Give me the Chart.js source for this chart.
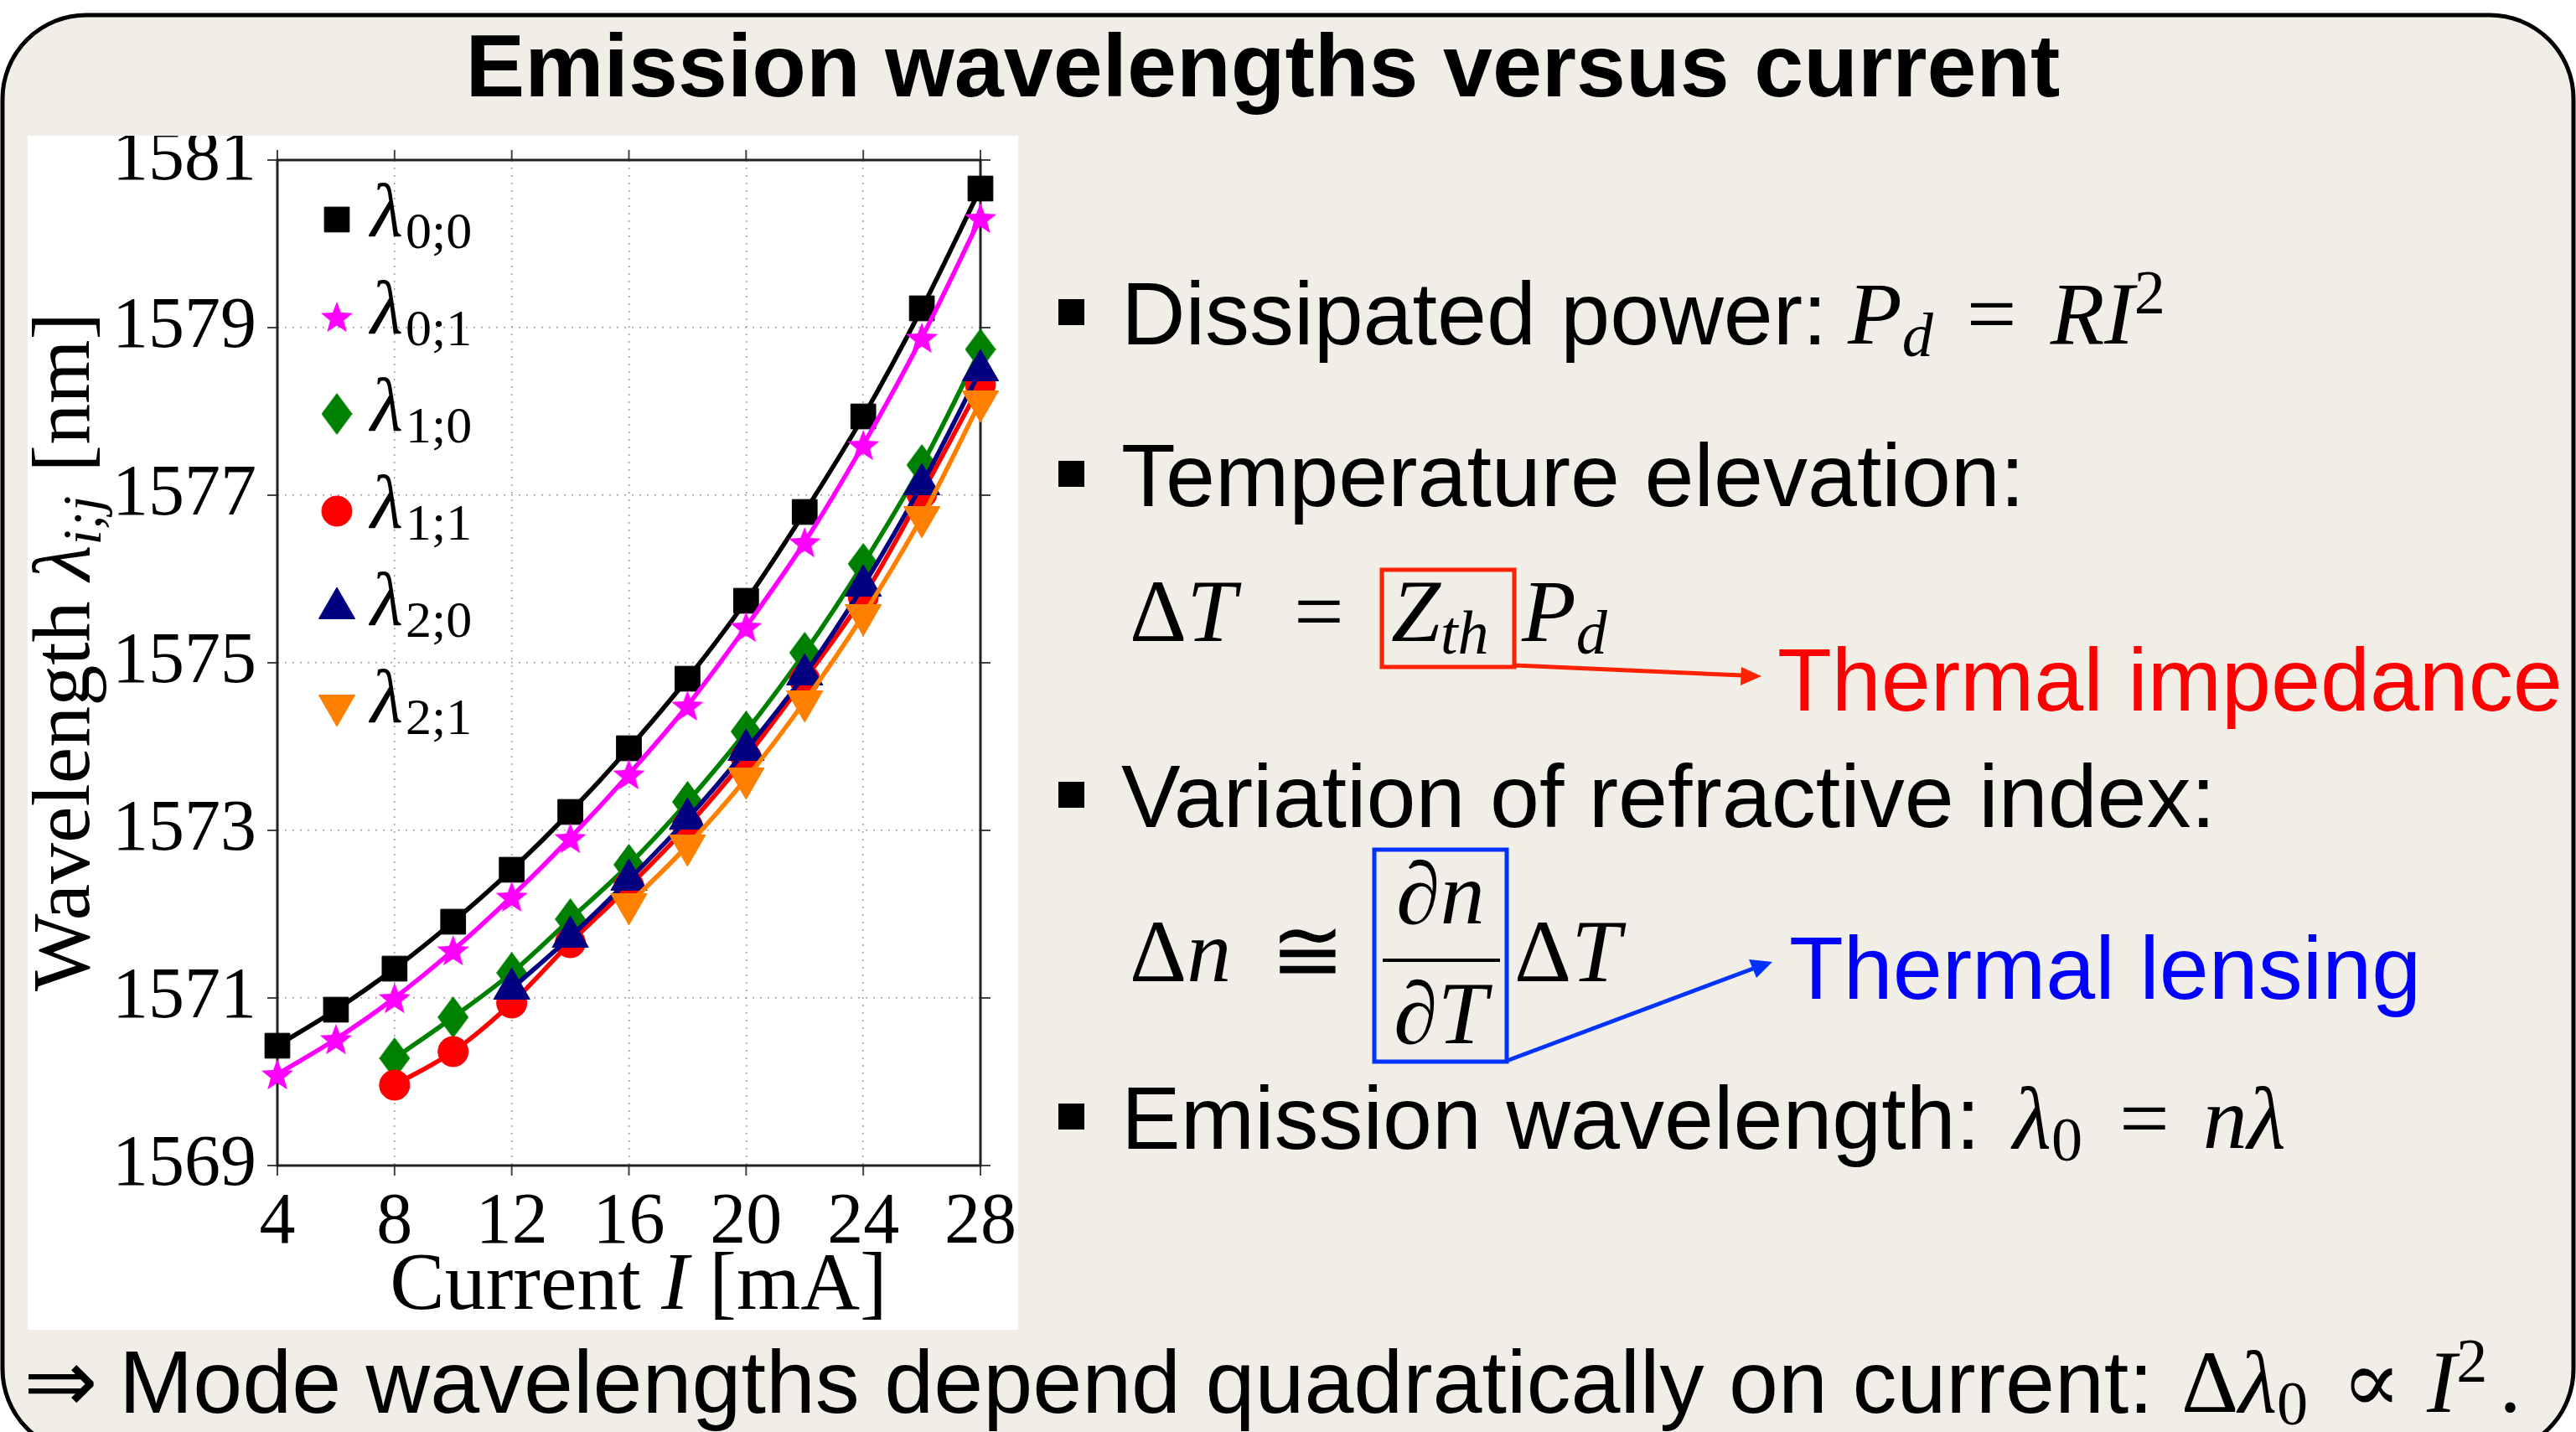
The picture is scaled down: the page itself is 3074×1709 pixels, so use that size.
<!DOCTYPE html>
<html>
<head>
<meta charset="utf-8">
<script src="https://cdn.jsdelivr.net/npm/chart.js@4.4.1/dist/chart.umd.min.js"></script>
<style>
  html, body { margin: 0; padding: 0; background: #fff; }
  #slide { position: relative; width: 3074px; height: 1709px; overflow: hidden; background: #fff; }
  svg { position: absolute; left: 0; top: 0; }
  #plotBox { position: absolute; left: 33px; top: 162px; width: 1182px; height: 1425px; background: #fff; }
  .t { position: absolute; white-space: nowrap; font-family: "Liberation Sans", Arial, sans-serif;
       font-size: 106px; line-height: 1; color: #000; }
  .m { font-family: "Liberation Serif", "DejaVu Serif", serif; }
  .i { font-style: italic; }
  .sb { font-size: 0.7em; position: relative; top: 0.2em; }
  .sp { font-size: 0.7em; position: relative; top: -0.48em; }
  .bullet { position: absolute; width: 31px; height: 31px; background: #000; }
</style>
</head>
<body>
<div id="slide">
  <svg width="3074" height="1709">
    <rect x="3" y="18" width="3068" height="1716" rx="100" ry="100" fill="#f1eee7" stroke="#000" stroke-width="5"/>
  </svg>

  <div class="t" style="left:0;width:3014px;text-align:center;top:25px;font-weight:bold;font-size:106px;">Emission wavelengths versus current</div>

  <div id="plotBox"><canvas id="chart"></canvas></div>

  <div class="bullet" style="left:1263px;top:357px"></div>
  <div class="t" style="left:1338px;top:321px">Dissipated power:</div>
  <div class="t m" style="left:2205px;top:322px"><span class="i">P</span><span class="sb i">d</span><span style="margin:0 40px 0 40px">=</span><span class="i">RI</span><span class="sp">2</span></div>

  <div class="bullet" style="left:1263px;top:550px"></div>
  <div class="t" style="left:1338px;top:514px">Temperature elevation:</div>
  <div class="t m" style="left:1348px;top:677px">Δ<span class="i">T</span></div>
  <div class="t m" style="left:1544px;top:677px">=</div>
  <div class="t m" style="left:1660px;top:677px"><span class="i">Z</span><span class="sb i">th</span></div>
  <div class="t m" style="left:1816px;top:677px"><span class="i">P</span><span class="sb i">d</span></div>
  <div class="t" style="left:2121px;top:758px;color:#ff0000">Thermal impedance</div>

  <div class="bullet" style="left:1263px;top:933px"></div>
  <div class="t" style="left:1338px;top:897px">Variation of refractive index:</div>
  <div class="t m" style="left:1348px;top:1083px">Δ<span class="i">n</span> <span style="margin-left:20px">≅</span></div>
  <div class="t m" style="left:1640px;width:158px;text-align:center;top:1014px">∂<span class="i">n</span></div>
  <div class="t m" style="left:1640px;width:158px;text-align:center;top:1157px">∂<span class="i">T</span></div>
  <div class="t m" style="left:1807px;top:1083px">Δ<span class="i">T</span></div>
  <div class="t" style="left:2135px;top:1102px;color:#0000ff">Thermal lensing</div>

  <div class="bullet" style="left:1263px;top:1317px"></div>
  <div class="t" style="left:1338px;top:1281px">Emission wavelength:</div>
  <div class="t m" style="left:2402px;top:1282px"><span class="i">λ</span><span class="sb">0</span><span style="margin:0 40px 0 44px">=</span><span class="i">nλ</span></div>

  <div class="t" style="left:28px;top:1596px;font-family:'DejaVu Sans',sans-serif">⇒</div>
  <div class="t" style="left:142px;top:1596px">Mode wavelengths depend quadratically on current:</div>
  <div class="t m" style="left:2603px;top:1597px">Δ<span class="i">λ</span><span class="sb">0</span><span style="margin:0 30px 0 40px">∝</span><span class="i">I</span><span class="sp">2</span><span style="margin-left:14px">.</span></div>

  <svg width="3074" height="1709" style="pointer-events:none">
    <rect x="1649" y="680" width="158" height="116" fill="none" stroke="#ff2200" stroke-width="5"/>
    <line x1="1807" y1="794" x2="2080" y2="806" stroke="#ff2200" stroke-width="5"/>
    <polygon points="2102,807 2078,796 2077,818" fill="#ff2200"/>
    <rect x="1640" y="1014" width="158" height="253" fill="none" stroke="#0033ff" stroke-width="5"/>
    <line x1="1650" y1="1146" x2="1790" y2="1146" stroke="#000" stroke-width="4"/>
    <line x1="1798" y1="1266" x2="2092" y2="1156" stroke="#0033ff" stroke-width="5"/>
    <polygon points="2115,1148 2096,1167 2087,1145" fill="#0033ff"/>
  </svg>
</div>

<script>
// emission wavelengths [nm] versus injection current [mA]
const currentMA = [4, 6, 8, 10, 12, 14, 16, 18, 20, 22, 24, 26, 28];
const lambda00 = [1570.43, 1570.86, 1571.35, 1571.91, 1572.53, 1573.22, 1573.98, 1574.81, 1575.74, 1576.80, 1577.94, 1579.23, 1580.66];
const lambda01 = [1570.09, 1570.51, 1571.00, 1571.57, 1572.21, 1572.91, 1573.67, 1574.49, 1575.43, 1576.44, 1577.60, 1578.88, 1580.31];
const lambda10 = [null, null, 1570.28, 1570.77, 1571.30, 1571.94, 1572.59, 1573.34, 1574.18, 1575.12, 1576.18, 1577.36, 1578.74];
const lambda11 = [null, null, 1569.96, 1570.36, 1570.94, 1571.66, 1572.33, 1573.05, 1573.87, 1574.80, 1575.79, 1577.02, 1578.32];
const lambda20 = [null, null, null, null, 1571.11, 1571.73, 1572.41, 1573.14, 1573.96, 1574.86, 1575.92, 1577.13, 1578.49];
const lambda21 = [null, null, null, null, null, null, 1572.12, 1572.82, 1573.62, 1574.54, 1575.57, 1576.74, 1578.12];

const modeIndex = ['0;0', '0;1', '1;0', '1;1', '2;0', '2;1'];
const xTicks = [4, 8, 12, 16, 20, 24, 28];
const yTicks = [1569, 1571, 1573, 1575, 1577, 1579, 1581];

const SERIF = '"Liberation Serif", "DejaVu Serif", serif';

function starImage(color, R, r) {
  const c = document.createElement('canvas');
  c.width = c.height = Math.ceil(2 * R + 2);
  const g = c.getContext('2d');
  g.translate(c.width / 2, c.height / 2 + R * 0.1);
  g.beginPath();
  for (let k = 0; k < 10; k++) {
    const rad = k % 2 ? r : R;
    const a = -Math.PI / 2 + k * Math.PI / 5;
    g.lineTo(rad * Math.cos(a), rad * Math.sin(a));
  }
  g.closePath();
  g.fillStyle = color;
  g.fill();
  return c;
}

function diamondImage(color, w, h) {
  const c = document.createElement('canvas');
  c.width = w; c.height = h;
  const g = c.getContext('2d');
  g.beginPath();
  g.moveTo(w / 2, 0); g.lineTo(w, h / 2); g.lineTo(w / 2, h); g.lineTo(0, h / 2);
  g.closePath();
  g.fillStyle = color;
  g.fill();
  return c;
}

const markers = [
  { color: '#000000', pointStyle: 'rect', radius: 21, rotation: 0 },
  { color: '#ff00ff', pointStyle: starImage('#ff00ff', 20, 8.5), radius: 18, rotation: 0 },
  { color: '#008000', pointStyle: diamondImage('#008000', 37, 50), radius: 20, rotation: 0 },
  { color: '#ff0000', pointStyle: 'circle', radius: 18, rotation: 0 },
  { color: '#000080', pointStyle: 'triangle', radius: 25, rotation: 0 },
  { color: '#ff8000', pointStyle: 'triangle', radius: 25, rotation: 180 }
];

function toPoints(values) {
  let pts = [];
  for (let i = 0; i < currentMA.length; i++) {
    if (values[i] != null) pts.push({ x: currentMA[i], y: values[i] });
  }
  return pts;
}

const allSeries = [lambda00, lambda01, lambda10, lambda11, lambda20, lambda21];

const datasets = allSeries.map((vals, i) => ({
  label: 'λ' + modeIndex[i],
  data: toPoints(vals),
  borderColor: markers[i].color,
  backgroundColor: markers[i].color,
  borderWidth: 5.5,
  tension: 0.35,
  pointStyle: markers[i].pointStyle,
  pointRadius: markers[i].radius,
  pointRotation: markers[i].rotation,
  pointBorderWidth: 1,
  pointBorderColor: markers[i].color,
  pointBackgroundColor: markers[i].color,
  clip: false,
  order: allSeries.length - 1 - i
}));

// frame, outward ticks on all sides, inside legend, axis titles
const decorations = {
  id: 'decorations',
  beforeDatasetsDraw(chart) {
    const { ctx, chartArea: a, scales } = chart;
    ctx.save();
    ctx.strokeStyle = '#444';
    ctx.lineWidth = 2;
    const tl = 12;
    ctx.beginPath();
    xTicks.forEach(v => {
      const px = scales.x.getPixelForValue(v);
      ctx.moveTo(px, a.bottom); ctx.lineTo(px, a.bottom + tl);
      ctx.moveTo(px, a.top); ctx.lineTo(px, a.top - tl);
    });
    yTicks.forEach(v => {
      const py = scales.y.getPixelForValue(v);
      ctx.moveTo(a.left, py); ctx.lineTo(a.left - tl, py);
      ctx.moveTo(a.right, py); ctx.lineTo(a.right + tl, py);
    });
    ctx.stroke();
    ctx.strokeStyle = '#222';
    ctx.lineWidth = 3;
    ctx.strokeRect(a.left, a.top, a.right - a.left, a.bottom - a.top);
    ctx.restore();
  },
  afterDraw(chart) {
    const { ctx, chartArea: a } = chart;
    ctx.save();
    // legend
    for (let i = 0; i < markers.length; i++) {
      const cy = a.top + 71 + i * 116;
      const mx = a.left + 71;
      ctx.fillStyle = markers[i].color;
      ctx.strokeStyle = markers[i].color;
      ctx.lineWidth = 1;
      Chart.helpers.drawPoint(ctx, {
        pointStyle: markers[i].pointStyle,
        radius: markers[i].radius,
        rotation: markers[i].rotation,
        borderWidth: 1
      }, mx, cy);
      ctx.fillStyle = '#000';
      ctx.textBaseline = 'alphabetic';
      ctx.textAlign = 'left';
      ctx.font = 'italic 90px ' + SERIF;
      ctx.fillText('λ', a.left + 111, cy + 20);
      const w = ctx.measureText('λ').width;
      ctx.font = '62px ' + SERIF;
      ctx.fillText(modeIndex[i], a.left + 111 + w + 3, cy + 34);
    }
    // x title
    ctx.fillStyle = '#000';
    const xParts = [['Current ', '98px '], ['I', 'italic 98px '], [' [mA]', '98px ']];
    let total = 0;
    xParts.forEach(p => { ctx.font = p[1] + SERIF; total += ctx.measureText(p[0]).width; });
    let x0 = 729 - total / 2;
    xParts.forEach(p => { ctx.font = p[1] + SERIF; ctx.fillText(p[0], x0, 1400); x0 += ctx.measureText(p[0]).width; });
    // y title, rotated
    const yParts = [['Wavelength ', '98px ', 0], ['λ', 'italic 98px ', 0], ['i;j', 'italic 66px ', 14], [' [nm]', '98px ', 0]];
    total = 0;
    yParts.forEach(p => { ctx.font = p[1] + SERIF; total += ctx.measureText(p[0]).width + (p[0] === 'i;j' ? 4 : 0); });
    ctx.translate(73, 616);
    ctx.rotate(-Math.PI / 2);
    x0 = -total / 2;
    yParts.forEach(p => {
      ctx.font = p[1] + SERIF;
      ctx.fillText(p[0], x0, p[2]);
      x0 += ctx.measureText(p[0]).width + (p[0] === 'i;j' ? 4 : 0);
    });
    ctx.restore();
  }
};

new Chart(document.getElementById('chart'), {
  type: 'line',
  data: { datasets },
  plugins: [decorations],
  options: {
    responsive: true,
    maintainAspectRatio: false,
    animation: false,
    devicePixelRatio: 1,
    layout: { padding: { left: 0, top: 29, right: 45, bottom: 0 } },
    plugins: { legend: { display: false }, tooltip: { enabled: false } },
    scales: {
      x: {
        type: 'linear',
        min: 4, max: 28,
        afterBuildTicks: s => { s.ticks = xTicks.map(v => ({ value: v })); },
        afterFit: s => { s.height = 196; s.paddingLeft = 0; s.paddingRight = 0; },
        grid: { drawTicks: false, color: '#9a9a9a', lineWidth: 1.5 },
        border: { display: false, dash: [2, 7] },
        ticks: {
          autoSkip: false, maxRotation: 0, padding: 18, color: '#000',
          font: { family: SERIF, size: 86, lineHeight: 1.2 }
        }
      },
      y: {
        type: 'linear',
        min: 1569, max: 1581,
        afterBuildTicks: s => { s.ticks = yTicks.map(v => ({ value: v })); },
        afterFit: s => { s.width = 298; s.paddingTop = 0; s.paddingBottom = 0; },
        grid: { drawTicks: false, color: '#9a9a9a', lineWidth: 1.5 },
        border: { display: false, dash: [2, 7] },
        ticks: {
          autoSkip: false, padding: 25, color: '#000',
          font: { family: SERIF, size: 86, lineHeight: 1.2 },
          callback: v => String(v)
        }
      }
    }
  }
});
</script>
</body>
</html>
